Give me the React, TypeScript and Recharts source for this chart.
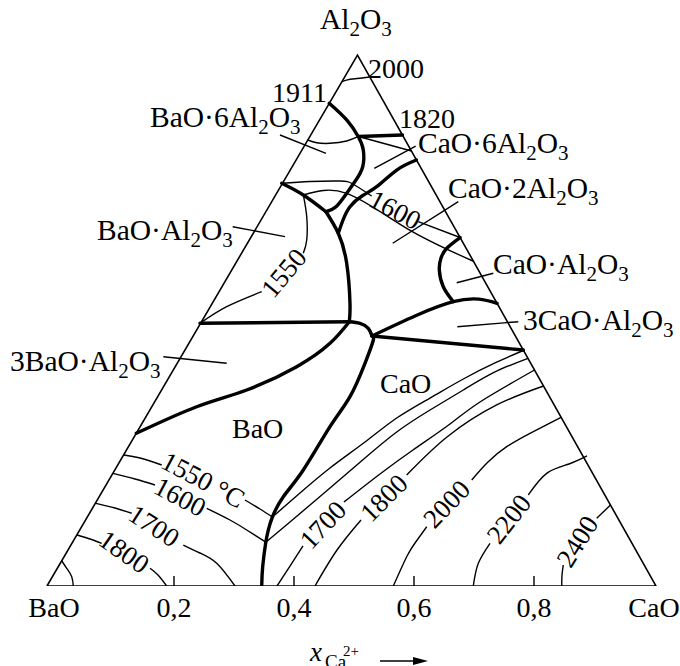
import React from "react";
import { ScatterChart, Scatter, XAxis, YAxis, Label } from "recharts";

type Pt = [number, number];

const FONT = "'Liberation Serif', 'Times New Roman', serif";

// units: x = position along the BaO–CaO edge (x100), y = height above it (same scale)
const xTicks = [0, 20, 40, 60, 80, 100];
const xTickLabels = ["BaO", "0,2", "0,4", "0,6", "0,8", "CaO"];

const triangle: Pt[] = [[-1.17, 0], [100.33, 0], [50.58, 88.5], [-1.17, 0]];

// phase boundaries
const b1911: Pt[] = [[45.87, 80.45], [48.78, 77.67], [50.72, 74.88], [51.55, 72.67], [51.45, 69.88], [50.33, 67.67], [48.78, 65.45], [47.0, 63.22], [45.33, 62.38]];
const bBa6: Pt[] = [[37.95, 67.12], [41.55, 65.17], [45.33, 62.38]];
const bStem: Pt[] = [[45.33, 62.38], [47.38, 58.78], [48.78, 53.78], [49.33, 47.12], [49.22, 44.05]];
const bCa6Ca2: Pt[] = [[47.38, 58.78], [48.17, 61], [49.33, 63.22], [51.33, 65], [53.78, 66.55], [57.12, 69.33], [60.4, 71]];
const b1820: Pt[] = [[50.75, 74.92], [58.08, 75.17]];
const bLeftFlat: Pt[] = [[24.33, 43.78], [49.22, 44.05]];
const bBa3: Pt[] = [[49.22, 44.05], [46, 40.45], [40.45, 36.55], [32.12, 32.67], [23.78, 29.88], [13.72, 25.45]];
const bLoop: Pt[] = [[49.22, 44.05], [51, 43.78], [52.38, 42.95], [53, 41.67]];
const bCaCA: Pt[] = [[53, 41.67], [66.55, 47.38], [73.85, 47.12]];
const bCA: Pt[] = [[67.68, 58.08], [65.5, 56.33], [64.5, 54.67], [64.22, 52.67], [64.88, 49.88], [66.55, 47.38]];
const bC3A: Pt[] = [[53, 41.67], [78.22, 39.33]];
const bBaoCao: Pt[] = [[53, 41.67], [53.22, 41], [51.83, 37.12], [49.33, 31.55], [46, 26.55], [41.55, 19.33], [38.22, 14.88], [36.4, 11.5], [35.72, 9.33], [35.3, 7.3], [34.78, 3.22], [34.62, 0]];

// isotherms and other thin lines
const iso2000Top: Pt[] = [[47.98, 84.05], [49.33, 84.45], [51, 84.62], [52.58, 84.83]];
const arcBa6: Pt[] = [[42.3, 74.33], [43.78, 73.88], [46, 73.78], [48.78, 74.17], [50.75, 74.92]];
const lineCa6: Pt[] = [[50.75, 74.92], [59.58, 72.5]];
const iso1600A: Pt[] = [[37.95, 67.12], [42.67, 67.42], [47.67, 67.5], [49.83, 67], [52.95, 65]];
const iso1600B: Pt[] = [[60.72, 60.72], [67.68, 58.08]];
const lineMid: Pt[] = [[41.55, 65.17], [48.78, 65.45], [58.78, 59.62], [70.0, 54.08]];
const iso1550UpA: Pt[] = [[41.55, 65.17], [42.12, 61.55], [42.12, 57.67], [41.55, 55.45]];
const iso1550UpB: Pt[] = [[34.62, 49.05], [28.78, 46.55], [24.33, 43.78]];
const iso1550LA: Pt[] = [[11.6, 21.83], [14.33, 21.33], [17.95, 20.17]];
const iso1550LB: Pt[] = [[31.83, 14.33], [34.33, 12.83], [36.4, 11.5]];
const iso1550R: Pt[] = [[36.4, 11.5], [41, 15.5], [46, 19.67], [51.83, 24], [57.12, 28], [62.67, 31.33], [68.22, 34.5], [73.5, 37.17], [78.2, 39.25]];
const iso1600LA: Pt[] = [[9.83, 18.78], [13.5, 17.83], [16.83, 16.83]];
const iso1600LB: Pt[] = [[25.45, 12.95], [29.33, 11], [32.12, 9.33], [35.3, 7.3]];
const iso1600R: Pt[] = [[35.3, 7.3], [39.33, 10.67], [46, 16.33], [51.83, 21.33], [57.12, 25.67], [62.67, 29.33], [68.22, 32.67], [73.5, 35.67], [79, 37.95]];
const iso1700LA: Pt[] = [[7, 13.78], [10.17, 13], [12.95, 12.12]];
const iso1700LB: Pt[] = [[21.55, 6.83], [24.33, 5.5], [27.12, 3.78], [30.17, 0]];
const iso1700RA: Pt[] = [[37.17, 0], [39.33, 3.33], [41.5, 6.67]];
const iso1700RB: Pt[] = [[48.33, 14], [54.33, 18.67], [59.83, 22.67], [66, 27], [71, 30.67], [80.08, 36]];
const iso1800LA: Pt[] = [[3.83, 8.5], [6, 7.83], [7.95, 7.12]];
const iso1800LB: Pt[] = [[16, 2.95], [17.33, 1.83], [18.78, 0]];
const iso1800RA: Pt[] = [[43.5, 0], [47.17, 6], [51.17, 11]];
const iso1800RB: Pt[] = [[58.78, 18.5], [65.5, 24.83], [73.78, 30.17], [81.6, 33.33]];
const iso2000A: Pt[] = [[84.5, 28.12], [79.33, 25.45], [75.45, 23.22], [72.33, 20.67], [69.62, 17.67]];
const iso2000B: Pt[] = [[62.12, 9.88], [60.17, 7.17], [58.78, 4.88], [56.55, 0]];
const iso2200A: Pt[] = [[88.83, 21.67], [85.83, 20.33], [82.12, 18.78], [79.05, 15.17]];
const iso2200B: Pt[] = [[72.67, 7.12], [70.72, 3.78], [69.88, 0]];
const iso2400A: Pt[] = [[92.75, 13.5], [90.45, 11.28]];
const iso2400B: Pt[] = [[84.88, 3.5], [84.67, 1.83], [84.62, 0]];
const cornerArc: Pt[] = [[1.25, 4.25], [2.12, 2.95], [2.95, 1.55], [3.22, 0]];

// leader lines
const leaders: Pt[][] = [
  [[37.67, 75.17], [45.33, 72.12]],
  [[29.78, 59.88], [38.5, 58.22]],
  [[18.22, 38.22], [28.78, 37.12]],
  [[53.38, 69.62], [60.28, 73.33]],
  [[67.38, 64.05], [56.45, 57.12]],
  [[73.22, 52.12], [67.12, 50.55]],
  [[77.38, 44.05], [67.22, 43.22]],
];

const textLabels = [
  { x: 44.33, y: 92.83, text: "Al_2O_3" },
  { x: 52.33, y: 84.67, text: "2000" },
  { x: 36.33, y: 80.67, text: "1911" },
  { x: 57.5, y: 76.33, text: "1820" },
  { x: 16, y: 76.5, text: "BaO·6Al_2O_3" },
  { x: 60.67, y: 72.17, text: "CaO·6Al_2O_3" },
  { x: 65.67, y: 64.67, text: "CaO·2Al_2O_3" },
  { x: 7.17, y: 57.75, text: "BaO·Al_2O_3" },
  { x: 73.17, y: 52, text: "CaO·Al_2O_3" },
  { x: 78.17, y: 42.67, text: "3CaO·Al_2O_3" },
  { x: -7.33, y: 35.83, text: "3BaO·Al_2O_3" },
  { x: 29.67, y: 24.67, text: "BaO" },
  { x: 54.33, y: 32.17, text: "CaO" },
];

const isoLabels = [
  { x: 56.83, y: 62.67, text: "1600", rot: 28 },
  { x: 38.33, y: 52.17, text: "1550", rot: -50 },
  { x: 24.83, y: 17.67, text: "1550 °C", rot: 28 },
  { x: 21, y: 14.83, text: "1600", rot: 28 },
  { x: 16.67, y: 10, text: "1700", rot: 33 },
  { x: 11.67, y: 5.67, text: "1800", rot: 35 },
  { x: 44.83, y: 10.17, text: "1700", rot: -47 },
  { x: 55, y: 14.67, text: "1800", rot: -45 },
  { x: 65.45, y: 13.67, text: "2000", rot: -46 },
  { x: 75.83, y: 11.17, text: "2200", rot: -52 },
  { x: 87.25, y: 7.42, text: "2400", rot: -58 },
];

const thick = [b1911, bBa6, bStem, bCa6Ca2, b1820, bLeftFlat, bBa3, bLoop, bCaCA, bCA, bC3A, bBaoCao];
const thin = [
  iso2000Top, arcBa6, lineCa6, iso1600A, iso1600B, lineMid, iso1550UpA, iso1550UpB,
  iso1550LA, iso1550LB, iso1550R, iso1600LA, iso1600LB, iso1600R, iso1700LA, iso1700LB,
  iso1700RA, iso1700RB, iso1800LA, iso1800LB, iso1800RA, iso1800RB, iso2000A, iso2000B,
  iso2200A, iso2200B, iso2400A, iso2400B, cornerArc,
];

const toXY = (pts: Pt[]) => pts.map(([x, y]) => ({ x, y }));
const noDot = () => <g />;

function rich(s: string) {
  const parts = s.split(/_(\d)/);
  return parts.map((p, i) => {
    if (i % 2 === 1)
      return (
        <tspan key={i} fontSize={21} dy={7}>
          {p}
        </tspan>
      );
    if (!p) return null;
    return (
      <tspan key={i} dy={i === 0 ? 0 : -7}>
        {p}
      </tspan>
    );
  });
}

const TextShape = (props: any) => {
  const { cx, cy, payload } = props;
  const size = payload.text.includes("_") ? 29.5 : 28;
  return (
    <text x={cx} y={cy} fontSize={size} fontFamily={FONT} fill="#000">
      {rich(payload.text)}
    </text>
  );
};

const IsoShape = (props: any) => {
  const { cx, cy, payload } = props;
  return (
    <text
      x={cx}
      y={cy}
      fontSize={27}
      fontFamily={FONT}
      fill="#000"
      textAnchor="middle"
      dominantBaseline="central"
      transform={`rotate(${payload.rot} ${cx} ${cy})`}
    >
      {payload.text}
    </text>
  );
};

const AxisTick = (props: any) => {
  const { x, y, payload } = props;
  const v = payload.value;
  const i = xTicks.indexOf(v);
  return (
    <g>
      {v > 0 && v < 100 && <line x1={x} x2={x} y1={y - 10} y2={y} stroke="#000" strokeWidth={1.4} />}
      <text x={x} y={y + 31} textAnchor="middle" fontSize={28} fontFamily={FONT} fill="#000">
        {xTickLabels[i]}
      </text>
    </g>
  );
};

const AxisTitle = (props: any) => {
  const vb = props.viewBox;
  const cx = vb.x + vb.width / 2;
  const by = vb.y + 75;
  return (
    <g fontFamily={FONT} fill="#000">
      <text x={cx - 30} y={by} fontSize={27} fontStyle="italic">
        x
      </text>
      <text x={cx - 15} y={by + 7} fontSize={19}>
        Ca
      </text>
      <text x={cx + 3} y={by - 5} fontSize={15}>
        2+
      </text>
      <line x1={cx + 40} x2={cx + 76} y1={by} y2={by} stroke="#000" strokeWidth={1.5} />
      <polygon points={`${cx + 73},${by - 4} ${cx + 88},${by} ${cx + 73},${by + 4}`} fill="#000" />
    </g>
  );
};

export default function App() {
  return (
    <div style={{ position: "absolute", left: 0, top: 0, background: "#fff" }}>
      <ScatterChart width={680} height={666} margin={{ top: 0, right: 0, bottom: 0, left: 0 }}>
        <XAxis
          type="number"
          dataKey="x"
          domain={[-9, 104.333]}
          allowDataOverflow
          ticks={xTicks}
          interval={0}
          height={80}
          axisLine={false}
          tickLine={false}
          tickSize={0}
          tickMargin={0}
          tick={<AxisTick />}
        >
          <Label content={<AxisTitle />} />
        </XAxis>
        <YAxis type="number" dataKey="y" domain={[0, 97.667]} allowDataOverflow hide />
        <Scatter
          data={toXY(triangle)}
          line={{ stroke: "#000", strokeWidth: 1.6, strokeLinejoin: "miter" }}
          shape={noDot}
          isAnimationActive={false}
        />
        {thin.map((pts, i) => (
          <Scatter
            key={"thin" + i}
            data={toXY(pts)}
            line={{ stroke: "#000", strokeWidth: 1.4 }}
            lineJointType={pts.length > 2 ? "natural" : "linear"}
            shape={noDot}
            isAnimationActive={false}
          />
        ))}
        {leaders.map((pts, i) => (
          <Scatter
            key={"lead" + i}
            data={toXY(pts)}
            line={{ stroke: "#000", strokeWidth: 1.4 }}
            shape={noDot}
            isAnimationActive={false}
          />
        ))}
        {thick.map((pts, i) => (
          <Scatter
            key={"thick" + i}
            data={toXY(pts)}
            line={{ stroke: "#000", strokeWidth: 3.4, strokeLinejoin: "round", strokeLinecap: "round" }}
            lineJointType={pts.length > 2 ? "natural" : "linear"}
            shape={noDot}
            isAnimationActive={false}
          />
        ))}
        <Scatter data={textLabels} shape={<TextShape />} isAnimationActive={false} />
        <Scatter data={isoLabels} shape={<IsoShape />} isAnimationActive={false} />
      </ScatterChart>
    </div>
  );
}
